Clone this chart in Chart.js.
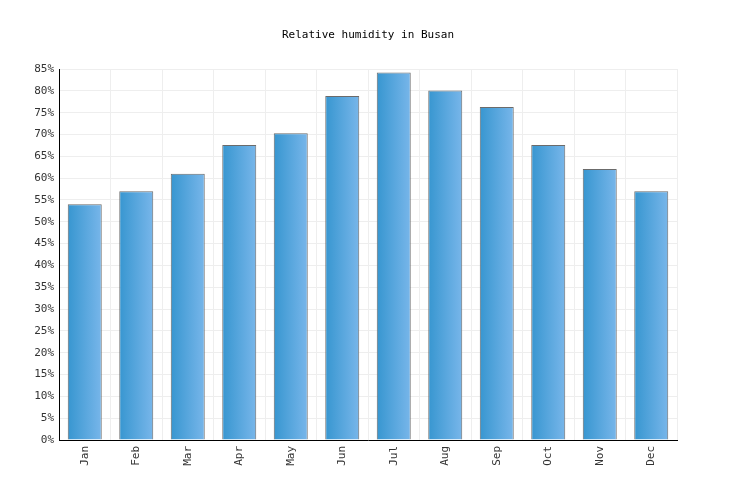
<!DOCTYPE html>
<html><head><meta charset="utf-8">
<script src="https://cdn.jsdelivr.net/npm/chart.js@4"></script>
<style>html,body{margin:0;padding:0;background:#fff}#w{width:736px;height:500px}</style>
</head><body><div id="w"><canvas id="c" width="736" height="500"></canvas></div>
<script>
const title = "Relative humidity in Busan";
const months = ["Jan","Feb","Mar","Apr","May","Jun","Jul","Aug","Sep","Oct","Nov","Dec"];
const humidity = [54,57,61,67.6,70.3,78.8,84.2,80.1,76.3,67.6,62.1,57];
const yTicks = [0,5,10,15,20,25,30,35,40,45,50,55,60,65,70,75,80,85];
const font = {family:"'DejaVu Sans Mono', monospace", size:11};
const titlePlugin = {id:'tt', afterDraw(ch){const c=ch.ctx;c.save();c.font="11px 'DejaVu Sans Mono', monospace";c.fillStyle='#000';c.textAlign='center';c.textBaseline='middle';c.fillText(title,368,35);c.restore();}};
new Chart(document.getElementById('c'),{
  type:'bar',
  data:{labels:months,datasets:[{data:humidity,
    backgroundColor:(c)=>{const ch=c.chart,xs=ch.scales.x;if(!xs||!ch.chartArea||c.dataIndex===undefined)return '#4aa3dc';
      const px=xs.getPixelForValue(c.dataIndex),w=xs.width/12*0.66;
      const g=ch.ctx.createLinearGradient(px-w/2,0,px+w/2,0);g.addColorStop(0,'#3796d0');g.addColorStop(1,'#78b6ea');return g;},
    borderColor:'#6b6b6b',borderWidth:1,barPercentage:0.66,categoryPercentage:1}]},
  options:{responsive:false,animation:false,
    layout:{padding:{top:69,right:59,left:0,bottom:0}},
    plugins:{legend:{display:false},title:{display:false},tooltip:{enabled:false}},
    scales:{
      x:{grid:{color:'#eeeeee',drawTicks:false,offset:true},border:{color:'#000'},
        ticks:{font,color:'#333',maxRotation:90,minRotation:90,padding:6},
        afterFit:s=>{s.height=60;}},
      y:{min:0,max:85,grid:{color:'#eeeeee',drawTicks:false},border:{color:'#000'},
        afterBuildTicks:s=>{s.ticks=yTicks.map(v=>({value:v}));},
        ticks:{font,color:'#333',padding:5,callback:v=>v+'%'},
        afterFit:s=>{s.width=59;}}
    }},
  plugins:[titlePlugin]
});
</script></body></html>
